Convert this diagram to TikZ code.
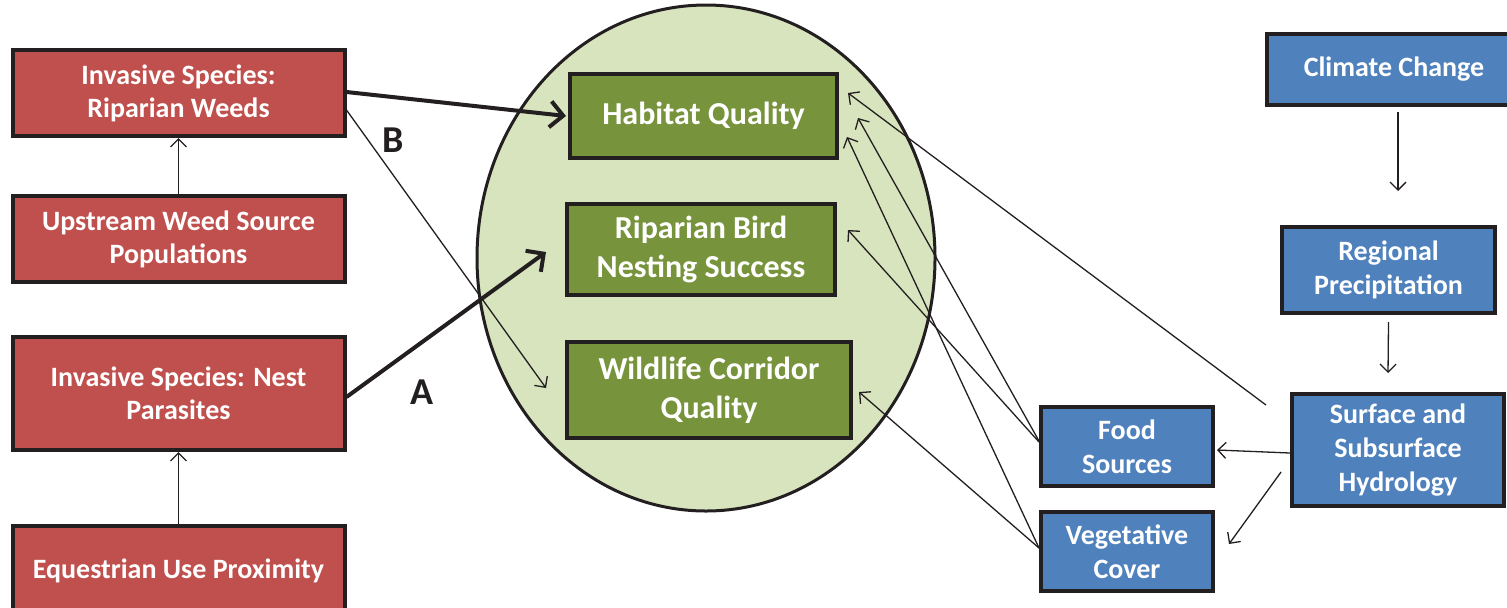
\documentclass[tikz,border=0pt]{standalone}
\usepackage{fontspec}
\setmainfont{Carlito}
\usetikzlibrary{positioning, arrows.meta, calc, shapes.geometric}
\definecolor{weedred}{HTML}{C0504D}
\definecolor{waterblue}{HTML}{4F81BD}
\definecolor{habgreen}{HTML}{77933C}
\definecolor{ovalgreen}{HTML}{D7E4BD}
\definecolor{edgeblack}{HTML}{231F20}

\begin{document}
\begin{tikzpicture}[x=0.5pt, y=-0.5pt,
    redbox/.style={draw=edgeblack, line width=2pt, rectangle, fill=weedred, text=white, align=center, inner sep=0pt, minimum width=166pt, font=\fontsize{14}{16.5}\selectfont\bfseries},
    greenbox/.style={draw=edgeblack, line width=2pt, rectangle, fill=habgreen, text=white, align=center, inner sep=0pt, font=\fontsize{16}{19.5}\selectfont\bfseries},
    bluebox/.style={draw=edgeblack, line width=2pt, rectangle, fill=waterblue, text=white, align=center, inner sep=0pt, font=\fontsize{14}{16.8}\selectfont\bfseries},
    oval/.style={draw=edgeblack, line width=1.5pt, ellipse, fill=ovalgreen, inner sep=0pt},
    edge/.style={draw=edgeblack, line width=0.65pt, -{Straight Barb[length=4pt, width=8pt]}},
    thickedge/.style={draw=edgeblack, line width=2pt, -{Straight Barb[length=6.5pt, width=13pt]}},
    letter/.style={text=edgeblack, font=\fontsize{19}{22}\selectfont\bfseries}
]
\useasboundingbox (0,0) rectangle (1507,607);

% Oval
\node[oval, minimum width=229pt, minimum height=253pt] (oval) at (706,258) {};

% Boxes
\node[redbox, minimum height=43pt] (weeds) at (178.5,93) {Invasive Species:\\Riparian Weeds};
\node[redbox, minimum height=43pt, below=28pt of weeds] (upstream) {Upstream Weed Source\\Populations};
\node[redbox, minimum height=56.5pt] (nest) at (178.5,393.5) {Invasive Species: Nest\\Parasites};
\node[redbox, minimum height=45pt, below=36pt of nest] (equestrian) {Equestrian Use Proximity};

\node[greenbox, minimum width=133.5pt, minimum height=42pt] (habitat) at (703.5,116) {Habitat Quality};
\node[greenbox, minimum width=134pt, minimum height=45.5pt] (riparian) at (701,249.5) {Riparian Bird\\Nesting Success};
\node[greenbox, minimum width=142pt, minimum height=48pt] (wildlife) at (709,390) {Wildlife Corridor\\Quality};

\node[bluebox, minimum width=127pt, minimum height=35.5pt] (climate) at (1394,69.5) {Climate Change};
\node[bluebox, minimum width=106.5pt, minimum height=43pt] (regional) at (1388.5,270) {Regional\\Precipitation};
\node[bluebox, minimum width=106pt, minimum height=56pt] (hydro) at (1398,450) {Surface and\\Subsurface\\Hydrology};
\node[bluebox, minimum width=86pt, minimum height=39.5pt] (food) at (1127,446.5) {Food\\Sources};
\node[bluebox, minimum width=86pt, minimum height=39.5pt] (veg) at (1127,551.5) {Vegetative\\Cover};

\node[letter] (lblB) at (393,140) {B};
\node[letter] (lblA) at (422,392) {A};

% Arrows
\draw[edge] (upstream.north) -- (weeds.south);
\draw[edge] (equestrian.north) -- (nest.south);
\draw[thickedge] ($(weeds.east)+(0,-1)$) -- ($(habitat.west)+(-2,0)$);
\draw[edge] ($(weeds.east)+(0,17)$) -- ($(wildlife.west)+(-19,-2)$);
\draw[thickedge] ($(nest.east)+(0,3.5)$) -- ($(riparian.west)+(-19,2.5)$);

\draw[edge] ($(climate.south)+(4,5)$) -- ($(regional.north)+(9.5,-34)$);
\draw[edge] ($(regional.south)+(0,7)$) -- ($(hydro.north)+(-10,-19)$);
\draw[edge] ($(hydro.west)+(0,3)$) -- ($(food.east)+(2,3.5)$);
\draw[edge] ($(hydro.west)+(-9,22)$) -- ($(veg.east)+(14,-7.5)$);
\draw[edge] ($(hydro.north west)+(-24,13)$) -- ($(habitat.east)+(9,-23)$);
\draw[edge] ($(food.west)+(0,-5.5)$) -- ($(habitat.east)+(19,2)$);
\draw[edge] ($(food.west)+(0,-4.5)$) -- ($(riparian.east)+(11,-19.5)$);
\draw[edge] ($(veg.west)+(0,-3.5)$) -- ($(habitat.east)+(8,21)$);
\draw[edge] ($(veg.west)+(0,-3.5)$) -- ($(wildlife.east)+(6,2)$);

\end{tikzpicture}
\end{document}
